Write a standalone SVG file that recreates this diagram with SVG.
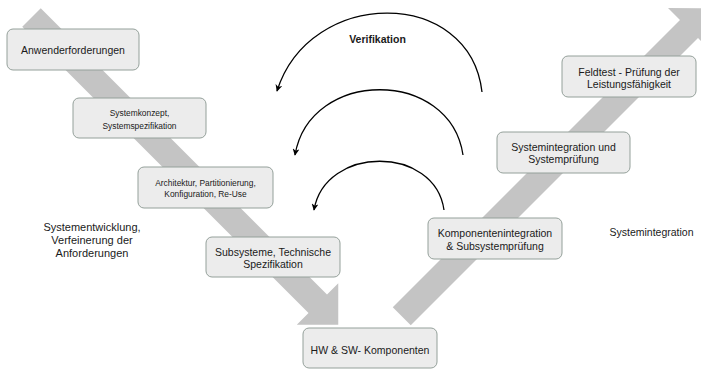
<svg xmlns="http://www.w3.org/2000/svg" width="701" height="370" viewBox="0 0 701 370">
  <style>
    .band { fill: #c4c4c4; stroke: none; }
    .box { fill: #ececec; stroke: #94a09a; stroke-width: 1; }
    .t { font-family: "Liberation Sans", Arial, sans-serif; fill: #1a1a1a; text-anchor: middle; }
    .m { font-size: 10.5px; }
    .s { font-size: 8.4px; }
    .lbl { font-size: 11px; }
    .arc { fill: none; stroke: #000; stroke-width: 1.3; marker-end: url(#head); }
  </style>
  <defs>
    <marker id="head" viewBox="0 0 10 10" refX="9" refY="5" markerWidth="7" markerHeight="7" markerUnits="userSpaceOnUse" orient="auto">
      <path d="M0,0 L10,5 L0,10 L3,5 Z" fill="#000"/>
    </marker>
  </defs>
  <rect width="701" height="370" fill="#fff"/>

  <!-- Descending band (system development) -->
  <polygon class="band" points="22.25,26.75 40.75,8.25 327,294.5 338.25,283.25 338.25,324.75 296.75,324.75 308.5,313"/>
  <!-- Ascending band (system integration) -->
  <polygon class="band" points="392.75,307.25 680,20 668,8 709.75,8.25 710,50 698,38 410.75,325.25"/>

  <!-- Verification connectors -->
  <g id="connectors">
    <path class="arc" d="M482,92 C470,-13 310,-13 277,91"/>
    <path class="arc" d="M463,155 C450,68 310,68 295,155"/>
    <path class="arc" d="M444,210 C435,145 325,145 314,210"/>
  </g>

  <g id="n-anwender">
    <rect class="box" x="7" y="29" width="132" height="41" rx="6"/>
    <text class="t m" x="73" y="53.5">Anwenderforderungen</text>
  </g>
  <g id="n-systemkonzept">
    <rect class="box" x="73" y="98" width="133" height="40" rx="6"/>
    <text class="t s" x="139.5" y="116">Systemkonzept,</text>
    <text class="t s" x="139.5" y="129">Systemspezifikation</text>
  </g>
  <g id="n-architektur">
    <rect class="box" x="138" y="167" width="135" height="41" rx="6"/>
    <text class="t s" x="205.5" y="186">Architektur, Partitionierung,</text>
    <text class="t s" x="205.5" y="196.5">Konfiguration, Re-Use</text>
  </g>
  <g id="n-subsysteme">
    <rect class="box" x="206" y="237" width="134" height="40" rx="6"/>
    <text class="t m" x="273" y="255.5">Subsysteme, Technische</text>
    <text class="t m" x="273" y="267.5">Spezifikation</text>
  </g>
  <g id="n-hwsw">
    <rect class="box" x="303" y="328" width="134" height="40" rx="6"/>
    <text class="t m" x="370" y="353.5">HW &amp; SW- Komponenten</text>
  </g>
  <g id="n-komponentenintegration">
    <rect class="box" x="428" y="218" width="134" height="41" rx="6"/>
    <text class="t m" x="495" y="236.5">Komponentenintegration</text>
    <text class="t m" x="495" y="249.5">&amp; Subsystemprüfung</text>
  </g>
  <g id="n-systemintegration">
    <rect class="box" x="497" y="132" width="133" height="41" rx="6"/>
    <text class="t m" x="563.5" y="150.5">Systemintegration und</text>
    <text class="t m" x="563.5" y="162.5">Systemprüfung</text>
  </g>
  <g id="n-feldtest">
    <rect class="box" x="562" y="56" width="134" height="41" rx="6"/>
    <text class="t m" x="629" y="75.5">Feldtest - Prüfung der</text>
    <text class="t m" x="629" y="87.5">Leistungsfähigkeit</text>
  </g>

  <!-- Free labels -->
  <text class="t m" x="377.5" y="43" font-weight="bold">Verifikation</text>
  <text class="t lbl" x="92" y="231">Systementwicklung,</text>
  <text class="t lbl" x="92" y="244">Verfeinerung der</text>
  <text class="t lbl" x="92" y="257">Anforderungen</text>
  <text class="t m" x="651.5" y="235.5">Systemintegration</text>
</svg>
